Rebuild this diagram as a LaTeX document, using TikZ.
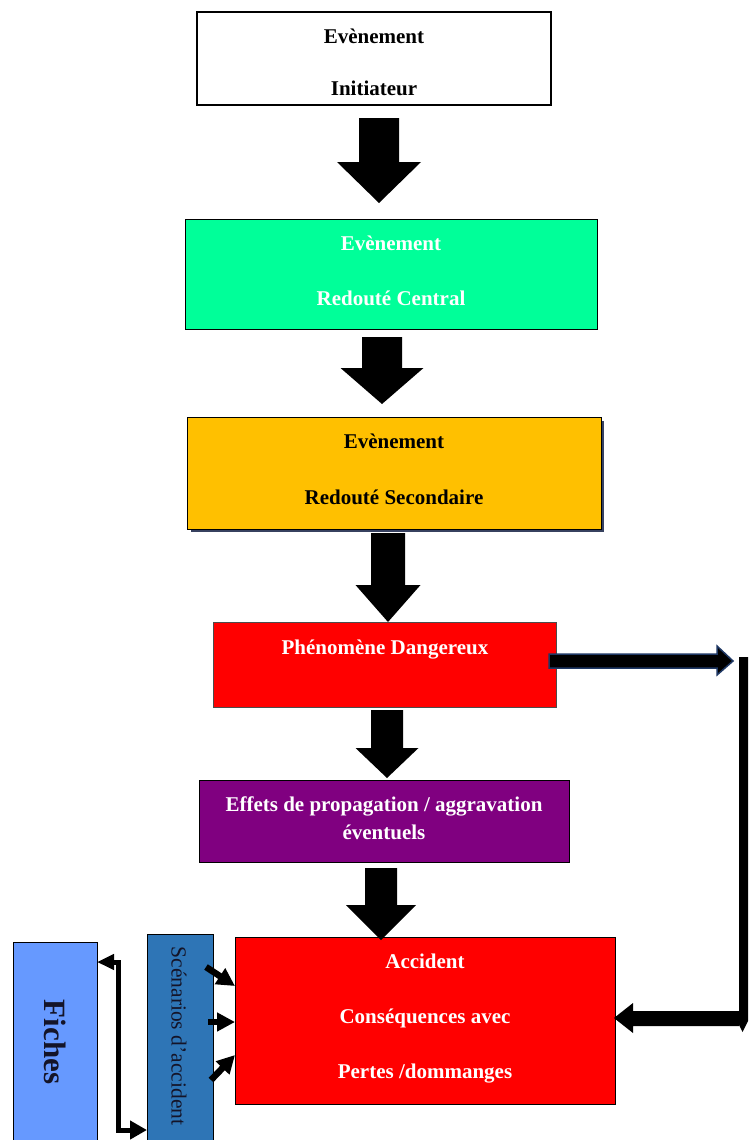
\documentclass[tikz,border=0pt]{standalone}
\usepackage{fontspec}
\setmainfont{Liberation Serif}
\usetikzlibrary{arrows.meta,calc}
\definecolor{sgreen}{RGB}{0,255,153}
\definecolor{orangeY}{RGB}{255,192,0}
\definecolor{purp}{RGB}{128,0,128}
\definecolor{blueS}{RGB}{46,117,182}
\definecolor{blueF}{RGB}{102,153,255}
\definecolor{navyB}{RGB}{31,56,100}
\definecolor{shadowc}{RGB}{55,65,95}
\definecolor{darkT}{RGB}{20,20,40}
\newcommand{\blkdown}[6]{%
  \fill[black] ({#1-#2},#4) -- ({#1+#2},#4) -- ({#1+#2},#5) -- ({#1+#3},#5) -- (#1,#6) -- ({#1-#3},#5) -- ({#1-#2},#5) -- cycle;}
\tikzset{
  box/.style={draw=black, line width=1pt, anchor=north west, inner sep=0pt, outer sep=0pt},
  lbl/.style={font=\fontsize{21}{25}\selectfont\bfseries, text height=14pt, text depth=4pt, inner sep=0pt, anchor=center, yshift=-3pt},
  wlbl/.style={lbl, text=white},
  sarrow/.style={line width=6.5pt, -{Triangle[length=18pt,width=18pt]}},
}
\begin{document}
\begin{tikzpicture}[x=1pt,y=-1pt]
\useasboundingbox (0,0) rectangle (748,1140);
\clip (0,0) rectangle (748,1140);
\fill[white] (0,0) rectangle (748,1140);

% boxes
\node[box, line width=2pt, fill=white, minimum width=354pt, minimum height=93pt] (b1) at (197,12) {};
\node[box, fill=sgreen, minimum width=412pt, minimum height=110pt] (b2) at (185,219) {};
\fill[shadowc] (191,421) rectangle (604,532);
\node[box, fill=orangeY, minimum width=414pt, minimum height=112pt] (b3) at (187,417) {};
\node[box, draw=black!70, fill=red, minimum width=343pt, minimum height=85pt] (b4) at (213,622) {};
\node[box, fill=purp, minimum width=370pt, minimum height=82pt] (b5) at (199,780) {};
\node[box, fill=red, minimum width=380pt, minimum height=167pt] (b6) at (235,937) {};
\node[box, fill=blueS, minimum width=66pt, minimum height=212pt] (sc) at (147,934) {};
\node[box, fill=blueF, minimum width=84pt, minimum height=204pt] (fi) at (13,942) {};

% texts
\node[lbl] (t1a) at (374,36) {Evènement};
\node[lbl] (t1b) at (374,87) {Initiateur};
\node[wlbl] (t2a) at (391,242) {Evènement};
\node[wlbl] (t2b) at (391,297) {Redouté Central};
\node[lbl] (t3a) at (394,440) {Evènement};
\node[lbl] (t3b) at (394,496) {Redouté Secondaire};
\node[wlbl] (t4) at (385,646) {Phénomène Dangereux};
\node[wlbl] (t5a) at (384,803) {Effets de propagation / aggravation};
\node[wlbl] (t5b) at (384,831) {éventuels};
\node[wlbl] (t6a) at (425,960) {Accident};
\node[wlbl] (t6b) at (425,1015) {Conséquences avec};
\node[wlbl] (t6c) at (425,1070) {Pertes /dommanges};
\node[rotate=-90, font=\fontsize{21.5}{25}\selectfont, text=darkT, inner sep=0pt] (tsc) at ($(sc.north)+(-1,102)$) {Scénarios d’accident};
\node[rotate=-90, font=\fontsize{31}{36}\selectfont\bfseries, text=darkT, inner sep=0pt] (tfi) at (55,1042) {Fiches};

% block arrows down
\blkdown{379}{20}{42}{118}{162}{203}
\blkdown{382}{20}{41.5}{337}{368}{404}
\blkdown{388}{17}{32.5}{533}{585}{622}
\blkdown{387}{16}{31.5}{710}{748}{778}
\blkdown{381}{16}{35}{868}{905}{940}

% right side arrow
\filldraw[fill=black, draw=navyB, line width=1.5pt] (549,654) -- (717,654) -- (717,646) -- (733,661) -- (717,675) -- (717,668) -- (549,668) -- cycle;
% vertical bar arrow down
\fill[black] (739,657) -- (750,657) -- (750,1013) -- (752,1013) -- (742.5,1032) -- (733,1013) -- (739,1013) -- cycle;
% left arrow into accident
\fill[black] (739,1011) -- (633,1011) -- (633,1003) -- (614,1018) -- (633,1033) -- (633,1026) -- (739,1026) -- cycle;

% small arrows scenarios -> accident
\coordinate (s1) at (206,967);
\coordinate (s2) at (208,1022);
\coordinate (s3) at (211,1080);
\draw[sarrow] (s1) -- (b6.west |- 0,986);
\draw[sarrow] (s2) -- (b6.west |- 0,1022);
\draw[sarrow] (s3) -- (b6.west |- 0,1055);

% fiches <-> scenarios
\draw[line width=5pt, {Triangle[length=17pt,width=15pt]}-{Triangle[length=17pt,width=18pt]}] (fi.east |- 0,962) -- (118,962) -- (118,1130) -- (sc.west |- 0,1130);
\end{tikzpicture}
\end{document}
